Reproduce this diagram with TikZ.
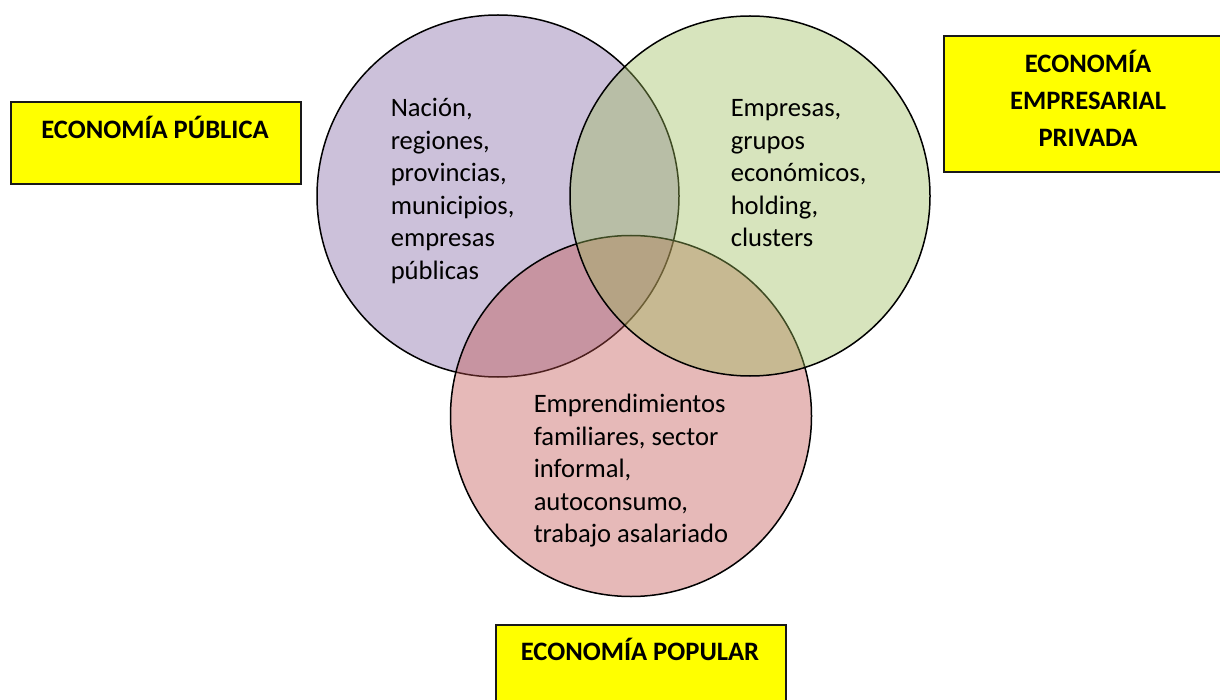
\documentclass[tikz,border=0pt]{standalone}
\usepackage{fontspec}
\setmainfont{Carlito}
\usetikzlibrary{positioning}
\definecolor{pubcol}{HTML}{8064A2}
\definecolor{privcol}{HTML}{9BBB59}
\definecolor{popcol}{HTML}{C0504D}
\definecolor{boxcol}{HTML}{FFFF00}

\begin{document}
\begin{tikzpicture}[x=1pt, y=-1pt, line width=1.5pt,
    set/.style={circle, draw, fill opacity=0.4, inner sep=0pt},
    settxt/.style={anchor=north west, align=left, inner sep=0pt, font=\fontsize{26.6}{32.5}\selectfont},
    labelbox/.style={rectangle, draw=black!90, line width=2pt, fill=boxcol, anchor=north west, inner sep=0pt},
    labeltxt/.style={align=center, inner sep=0pt, font=\bfseries\fontsize{26.6}{37}\selectfont}]
    \useasboundingbox (0,0) rectangle (1220,700);
    \clip (0,0) rectangle (1220,700);
        % the three sets
        \node[set, fill=pubcol, minimum size=362pt] (pub) at (498,196) {};
        \node[set, fill=popcol, minimum size=361pt] (pop) at (631,416) {};
        \node[set, fill=privcol, minimum size=360pt] (priv) at (750,196) {};
        \node[settxt] (pubtxt) at (390,93.2) {\strut Nación,\\regiones,\\provincias,\\municipios,\\empresas\\públicas};
        \node[settxt] (privtxt) at (730,93.2) {\strut Empresas,\\grupos\\económicos,\\holding,\\clusters};
        \node[settxt] (poptxt) at (533,389) {\strut Emprendimientos\\familiares, sector\\informal,\\autoconsumo,\\trabajo asalariado};
        % labels
        \node[labelbox, minimum width=290pt, minimum height=82pt] (pubbox) at (10,101) {};
        \node[labeltxt, anchor=base] (publbl) at (155,138.5) {ECONOMÍA PÚBLICA};
        \node[labelbox, minimum width=290pt, minimum height=136pt] (privbox) at (943,35) {};
        \node[labeltxt, anchor=north] (privlbl) at (1088,45.8) {\strut ECONOMÍA\\EMPRESARIAL\\PRIVADA};
        \node[labelbox, minimum width=290pt, minimum height=100pt] (popbox) at (495,623.5) {};
        \node[labeltxt, anchor=base] (poplbl) at (640,660) {ECONOMÍA POPULAR};
    \end{tikzpicture}
\end{document}
